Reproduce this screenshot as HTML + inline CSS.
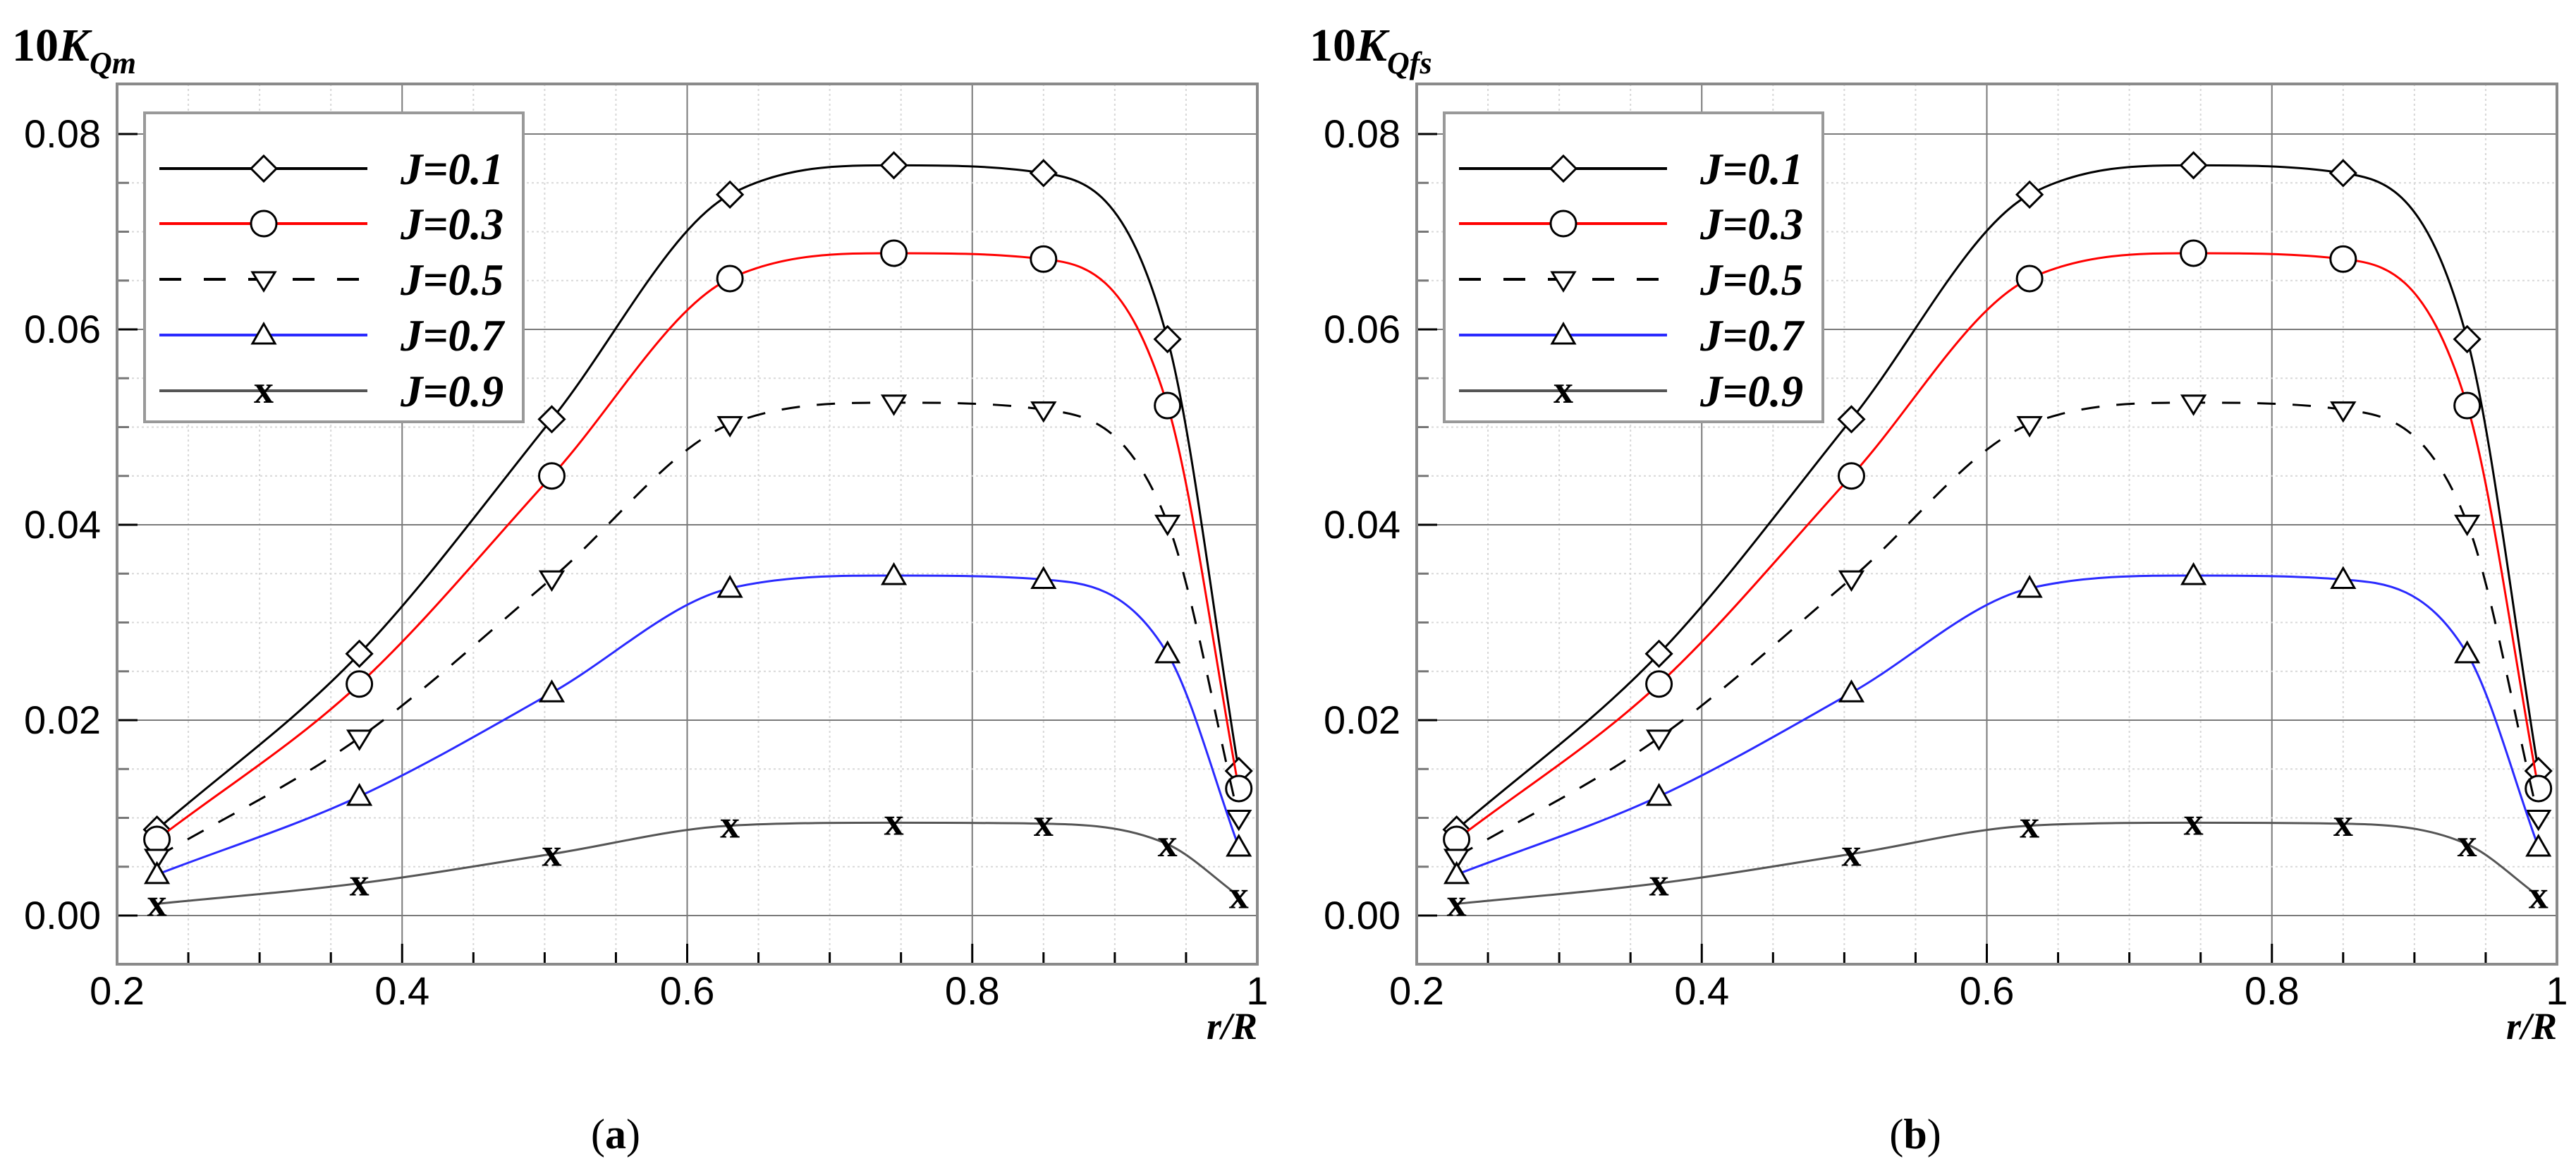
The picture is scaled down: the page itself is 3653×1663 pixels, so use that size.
<!DOCTYPE html>
<html><head><meta charset="utf-8"><style>
html,body{margin:0;padding:0;background:#fff;}
svg{display:block;}
</style></head><body>
<svg id="fig" width="3653" height="1663" viewBox="0 0 3653 1663" xmlns="http://www.w3.org/2000/svg"></svg>
<script>
const xs = [0.228, 0.37, 0.505, 0.63, 0.745, 0.85, 0.937, 0.987];
const seriesJ01 = [0.0088, 0.0268, 0.0508, 0.0738, 0.0768, 0.0760, 0.0590, 0.0148];
const seriesJ03 = [0.0078, 0.0237, 0.0450, 0.0652, 0.0678, 0.0672, 0.0522, 0.0130];
const seriesJ05 = [0.0060, 0.0182, 0.0345, 0.0503, 0.0525, 0.0518, 0.0402, 0.0100];
const seriesJ07 = [0.0042, 0.0122, 0.0228, 0.0335, 0.0348, 0.0344, 0.0268, 0.0070];
const seriesJ09 = [0.0012, 0.0033, 0.0063, 0.0092, 0.0095, 0.0094, 0.0073, 0.0020];
const legendLabels = ["J=0.1", "J=0.3", "J=0.5", "J=0.7", "J=0.9"];
const xTickLabels = ["0.2", "0.4", "0.6", "0.8", "1"];
const yTickLabels = ["0.00", "0.02", "0.04", "0.06", "0.08"];

const NS = "http://www.w3.org/2000/svg";
const svg = document.getElementById('fig');
function mk(tag, attrs, parent) {
  const e = document.createElementNS(NS, tag);
  for (const k in attrs) e.setAttribute(k, attrs[k]);
  (parent || svg).appendChild(e);
  return e;
}
const styles = [
  {color:"#000", dash:null, marker:"diamond", w:3},
  {color:"#ff0000", dash:null, marker:"circle", w:3},
  {color:"#000", dash:"26 24", marker:"tridown", w:3},
  {color:"#2a2aff", dash:null, marker:"triup", w:3},
  {color:"#555", dash:null, marker:"x", w:3}
];
const allSeries = [seriesJ01, seriesJ03, seriesJ05, seriesJ07, seriesJ09];

function monotone(px, py) {
  const n = px.length, d = [], m = [];
  for (let i = 0; i < n - 1; i++) d.push((py[i+1]-py[i])/(px[i+1]-px[i]));
  m[0] = d[0]; m[n-1] = d[n-2];
  for (let i = 1; i < n - 1; i++) m[i] = (d[i-1]*d[i] <= 0) ? 0 : (d[i-1]+d[i])/2;
  for (let i = 0; i < n - 1; i++) {
    if (d[i] === 0) { m[i] = 0; m[i+1] = 0; continue; }
    const a = m[i]/d[i], b = m[i+1]/d[i], s = a*a + b*b;
    if (s > 9) { const t = 3/Math.sqrt(s); m[i] = t*a*d[i]; m[i+1] = t*b*d[i]; }
  }
  let p = `M${px[0]},${py[0]}`;
  for (let i = 0; i < n - 1; i++) {
    const h = (px[i+1]-px[i])/3;
    p += ` C${px[i]+h},${py[i]+m[i]*h} ${px[i+1]-h},${py[i+1]-m[i+1]*h} ${px[i+1]},${py[i+1]}`;
  }
  return p;
}

function marker(g, type, cx, cy, name) {
  let e;
  if (type === "diamond") e = mk('polygon', {points:`${cx},${cy-18} ${cx+18},${cy} ${cx},${cy+18} ${cx-18},${cy}`, fill:"#fff", stroke:"#000", "stroke-width":3}, g);
  else if (type === "circle") e = mk('circle', {cx, cy, r:18, fill:"#fff", stroke:"#000", "stroke-width":3}, g);
  else if (type === "tridown") e = mk('polygon', {points:`${cx-16},${cy-10} ${cx+16},${cy-10} ${cx},${cy+16}`, fill:"#fff", stroke:"#000", "stroke-width":3}, g);
  else if (type === "triup") e = mk('polygon', {points:`${cx-16},${cy+12} ${cx+16},${cy+12} ${cx},${cy-16}`, fill:"#fff", stroke:"#000", "stroke-width":3}, g);
  else { e = mk('text', {x:cx, y:cy+17, "text-anchor":"middle", "font-family":"Liberation Serif, serif", "font-weight":"bold", "font-size":56, fill:"#000"}, g); e.textContent = "x"; }
  
  
}

function panel(ox, letter, sub) {
  const L = 166 + ox, R = 1783 + ox, T = 119, B = 1367;
  const X = v => L + (v - 0.2) / 0.8 * (R - L);
  const Y = v => 1298 - v / 0.02 * 277;
  const g = mk('g', {});
  
  
  const grid = mk('g', {}, g);
  
  
  for (let i = 0; i <= 16; i++) {
    const v = 0.2 + i * 0.05, x = X(v), major = i % 4 === 0;
    if (i > 0 && i < 16) mk('line', {x1:x, x2:x, y1:T, y2:B, stroke: major ? "#7a7a7a" : "#d8d8d8", "stroke-width":2, "stroke-dasharray": major ? "" : "3 4"}, grid);
    mk('line', {x1:x, x2:x, y1:B, y2:B - (major ? 29 : 17), stroke:"#000", "stroke-width":3}, grid);
  }
  for (let i = -1; i <= 17; i++) {
    const v = i * 0.005, y = Y(v), major = i % 4 === 0;
    if (y < T + 2 || y > B - 2) continue;
    mk('line', {x1:L, x2:R, y1:y, y2:y, stroke: major ? "#7a7a7a" : "#d8d8d8", "stroke-width":2, "stroke-dasharray": major ? "" : "3 4"}, grid);
    mk('line', {x1:L, x2:L + (major ? 29 : 17), y1:y, y2:y, stroke: major ? "#000" : "#777", "stroke-width":3}, grid);
  }
  const frame = mk('rect', {x:L, y:T, width:R-L, height:B-T, fill:"none", stroke:"#8a8a8a", "stroke-width":4}, g);
  
  
  xTickLabels.forEach((t, i) => {
    const e = mk('text', {x:X(0.2 + i*0.2), y:1424, "text-anchor":"middle", "font-family":"Liberation Sans, sans-serif", "font-size":56, fill:"#000"}, g);
    e.textContent = t;
    
    
  });
  yTickLabels.forEach((t, i) => {
    const e = mk('text', {x:L - 23, y:Y(i*0.02) + 19, "text-anchor":"end", "font-family":"Liberation Sans, sans-serif", "font-size":56, fill:"#000"}, g);
    e.textContent = t;
    
    
  });
  allSeries.forEach((s, k) => {
    const st = styles[k];
    const sg = mk('g', {}, g);
    
    
    const px = xs.map(X), py = s.map(Y);
    const p = mk('path', {d:monotone(px, py), fill:"none", stroke:st.color, "stroke-width":st.w}, sg);
    if (st.dash) p.setAttribute('stroke-dasharray', st.dash);
    
    
    px.forEach((x, i) => marker(sg, st.marker, x, py[i], 'data-point'));
  });
  const lg = mk('g', {}, g);
  
  
  mk('rect', {x:205 + ox, y:160, width:537, height:438, fill:"#fff", stroke:"#999", "stroke-width":4}, lg);
  const ly = [239, 317, 396, 475, 554];
  legendLabels.forEach((lab, k) => {
    const st = styles[k];
    const eg = mk('g', {}, lg);
    
    
    const ln = mk('line', {x1:226 + ox, x2:521 + ox, y1:ly[k], y2:ly[k], stroke:st.color, "stroke-width":4}, eg);
    if (st.dash) ln.setAttribute('stroke-dasharray', '31 32');
    marker(eg, st.marker, 374 + ox, ly[k], 'legend-marker');
    const t = mk('text', {x:568 + ox, y:ly[k] + 22, "font-family":"Liberation Serif, serif", "font-weight":"bold", "font-style":"italic", "font-size":63, fill:"#000"}, eg);
    t.textContent = lab;
  });
  const yt = mk('text', {x:(letter === 'a' ? 17 : 14) + ox, y:86, "font-family":"Liberation Serif, serif", "font-weight":"bold", "font-size":66, fill:"#000"}, g);
  
  
  yt.innerHTML = `10<tspan font-style="italic">K</tspan><tspan font-style="italic" font-size="44" dy="18">${sub}</tspan>`;
  const xt = mk('text', {x:R, y:1473, "text-anchor":"end", "font-family":"Liberation Serif, serif", "font-weight":"bold", "font-style":"italic", "font-size":54, fill:"#000"}, g);
  xt.textContent = "r/R";
  
  
  const cap = mk('text', {x:873 + ox, y:1628, "text-anchor":"middle", "font-family":"Liberation Serif, serif", "font-size":60, fill:"#000"}, g);
  cap.innerHTML = `(<tspan font-weight="bold">${letter}</tspan>)`;
  
  
}
panel(0, 'a', 'Qm');
panel(1843, 'b', 'Qfs');
</script>
</body></html>
